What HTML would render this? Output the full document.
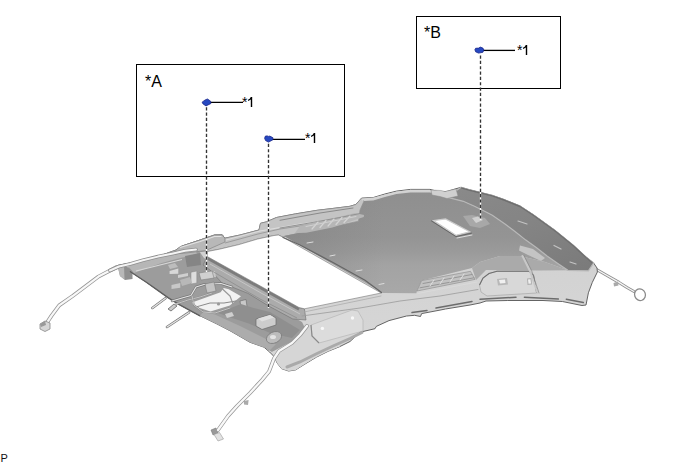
<!DOCTYPE html>
<html><head><meta charset="utf-8"><style>
html,body{margin:0;padding:0;background:#fff;width:688px;height:463px;overflow:hidden}
svg{position:absolute;left:0;top:0}
text{font-family:"Liberation Sans",sans-serif}
</style></head><body>
<svg width="688" height="463" viewBox="0 0 688 463">

<defs>
<linearGradient id="gdark" x1="0" y1="0" x2="0" y2="1">
<stop offset="0" stop-color="#8f8f8f"/><stop offset="0.45" stop-color="#949494"/><stop offset="0.6" stop-color="#9b9b9b"/><stop offset="0.72" stop-color="#a3a3a3"/><stop offset="1" stop-color="#a8a8a8"/>
</linearGradient>
<linearGradient id="gdarkL" x1="0" y1="0" x2="1" y2="0">
<stop offset="0" stop-color="#808080" stop-opacity="0.5"/><stop offset="0.35" stop-color="#808080" stop-opacity="0"/>
</linearGradient>
<linearGradient id="grear" x1="0" y1="0" x2="0" y2="1">
<stop offset="0" stop-color="#cecece"/><stop offset="1" stop-color="#d8d8d8"/>
</linearGradient>
<linearGradient id="gband" x1="0" y1="0" x2="1" y2="1">
<stop offset="0" stop-color="#8a8a8a"/><stop offset="0.5" stop-color="#848484"/><stop offset="1" stop-color="#7a7a7a"/>
</linearGradient>
</defs>
<g fill="none" stroke-linecap="round" stroke-linejoin="round">
<polyline points="129,264.5 119,266.5 116.8,267 98.5,276.6 72.3,296.3 59.2,305.4 51.4,315.9 46.2,323.8" stroke="#959595" stroke-width="3.8"/>
<polyline points="129,264.5 119,266.5 116.8,267 98.5,276.6 72.3,296.3 59.2,305.4 51.4,315.9 46.2,323.8" stroke="#f8f8f8" stroke-width="2.3"/>
<polyline points="594,268 607,275.5 619,282.4 627,287.5 634,291.5" stroke="#8e8e8e" stroke-width="3"/>
<polyline points="594,268 607,275.5 619,282.4 627,287.5 634,291.5" stroke="#f6f6f6" stroke-width="1.4"/>
<ellipse cx="640" cy="294.7" rx="5.4" ry="5.9" stroke="#8a8a8a" stroke-width="1.3" transform="rotate(-20 640 294.7)"/>
<path d="M613.5,283 L618,281.5 L618.5,285.5 L614,286.5 Z" fill="#aaa" stroke="none"/>
</g>
<path d="M40,324 L45,321 L50,323 L50,329 L45,331.5 L40,329 Z" fill="#d6d6d6" stroke="#888" stroke-width="0.8"/><path d="M40,324 L45,321 L46,325 L41,327 Z" fill="#999"/>
<path d="M211,430 L216,428 L218,433 L213,435 Z" fill="#999" stroke="#777" stroke-width="0.6"/><path d="M214,434.5 L219.5,432.5 L223.5,439 L218,441 Z" fill="#e2e2e2" stroke="#999" stroke-width="0.6"/><path d="M243.8,401 L248.6,400 L248,404.9 L244,404.5 Z" fill="#aaa"/>
<path d="M117.5,265.5 L128,263.5 L139,262 L158,256.5 L176,250 L182,246 L200,240 L214.5,235 L222.3,234.9 L224.8,238.2 L240,235 L259,230 L260.5,223.3 L266.3,221.9 L276.5,217.5 L295.4,213.9 L317.2,210.3 L330,208.8 L350,206.3 L355.8,204.5 L361.6,198.1 L373.3,197.5 L384.9,194 L396.5,191.1 L410.5,189.4 L430,189.4 L440,192 L447,191.4 L455,189 L461,187.3 L469,189.6 L480.7,192.5 L492.3,195.4 L504,199.5 L520,206 L533,214.5 L554.8,230.2 L573,245 L586,257 L593.6,263 L597,268 L597.4,272 L592.3,282.4 L588.4,292.8 L586,305 L582,305.5 L562.4,301.5 L543,300.5 L530,300.5 L507.8,300.5 L486,301 L480,303 L470,305 L445.4,309 L440,310.1 L421.6,313.6 L420.5,316.5 L414.7,315.3 L406.5,316 L389,320.6 L376.3,326.4 L375,328.7 L360,332.2 L350,341.5 L339.8,346.6 L328.1,351.3 L316.5,357.1 L304.9,364.1 L295.6,369.9 L288.6,371 L281.6,368.7 L277,362.9 L274.5,357 L269.6,352 L264,347.2 L250,342.3 L231,331.3 L217,324 L200,315.8 L192.6,311.9 L178.4,304.1 L168,297.6 L158.9,291.1 L146,282 L130.4,271.7 L120,268 Z" fill="url(#grear)" stroke="#646464" stroke-width="1"/>
<path d="M158,256.5 L176,250 L182,246 L200,240 L214.5,235 L222.3,234.9 L224.8,238.2 L240,235 L259,230 L260.5,223.3 L266.3,221.9 L276.5,217.5 L295.4,213.9 L317.2,210.3 L330,208.8 L350,206.3 L355.8,204.5 L361.6,198.1 L364,201 L360,210 L358.5,221.2 L332,227 L306,231.6 L282.5,236.9 L278.4,235 L274,235.5 L257.7,239 L238.9,244.6 L219.4,249.2 L207.5,251.5 L204.9,251.2 L187.4,252.9 L170,254.6 Z" fill="#c4c4c4" stroke="#8a8a8a" stroke-width="0.6"/>
<path d="M120,268 L131,267 L158,258 L176,253 L199,251 L204,258 L250,291.8 L302,322 L306,330 L290,345 L272,352 L264,347.2 L250,342.3 L231,331.3 L217,324 L200,315.8 L192.6,311.9 L178.4,304.1 L168,297.6 L158.9,291.1 L146,282 L130.4,271.7 Z" fill="#9c9c9c"/>
<path d="M207.3,256.6 L299,307.5 L304.4,308.8 L306,320 L292.8,319 L268.8,306.1 L248,293.4 L222,283 L210,270 L203,265 Z" fill="#ababab" stroke="#777" stroke-width="0.7"/>
<polyline points="208,258.6 299,309.2" fill="none" stroke="#7c7c7c" stroke-width="2.8"/>
<path d="M272,352 L285,345 L299,338 L306,327 L320,322 L345,322 L339.8,346.6 L328.1,351.3 L316.5,357.1 L304.9,364.1 L295.6,369.9 L288.6,371 L281.6,368.7 L277,362.9 L274.5,357 Z" fill="#d6d6d6"/>
<path d="M311,325 L352,310 L358,311 L363,320 L363,331 L319,343 L312,336 Z" fill="#dcdcdc" stroke="#b0b0b0" stroke-width="0.6"/>
<polyline points="311,325 312,336 319,343" fill="none" stroke="#8a8a8a" stroke-width="1.2"/>
<circle cx="322.4" cy="328.4" r="1.7" fill="#f8f8f8"/><circle cx="352.5" cy="318" r="1.7" fill="#f8f8f8"/>
<path d="M284,236 L306,231.6 L332,227 L358.5,221.2 L360,210 L364,201 L373.3,200.5 L384.9,197 L396.5,194 L410.5,192.5 L430,192.4 L440,194.5 L447,197.2 L463.3,201.3 L475,206.5 L486.5,212.3 L492.3,215.2 L505,224 L515,231.5 L525.8,240.1 L536.6,247.7 L547.4,256.3 L558.2,263.8 L567.9,270.3 L545,262 L520,256 L500,256 L480,262 L472,268 L421.6,280.6 L417,291 L416.3,293.3 L383,293 Z" fill="url(#gdark)"/>
<path d="M284,236 L306,231.6 L332,227 L358.5,221.2 L360,210 L364,201 L373.3,200.5 L384.9,197 L396.5,194 L410.5,192.5 L430,192.4 L440,194.5 L447,197.2 L463.3,201.3 L475,206.5 L486.5,212.3 L492.3,215.2 L505,224 L515,231.5 L525.8,240.1 L536.6,247.7 L547.4,256.3 L558.2,263.8 L567.9,270.3 L545,262 L520,256 L500,256 L480,262 L472,268 L421.6,280.6 L417,291 L416.3,293.3 L383,293 Z" fill="url(#gdarkL)"/>
<path d="M472,268 L480,262 L500,256 L520,256 L545,262 L567.9,270.3 L540,270.5 L486,270 L476,280 Z" fill="#aaaaaa"/>
<path d="M421.6,280.6 L470.5,271.3 L475,279.4 L417,291 Z" fill="#c2c2c2" stroke="#8a8a8a" stroke-width="0.6"/>
<path d="M461,187.3 L469,189.6 L480.7,192.5 L492.3,195.4 L504,199.5 L520,206 L533,214.5 L554.8,230.2 L573,245 L586,257 L593.6,263 L588.4,270.8 L567.9,270.3 L558.2,263.8 L547.4,256.3 L536.6,247.7 L525.8,240.1 L515,231.5 L505,224 L492.3,215.2 L486.5,212.3 L475,206.5 L463.3,201.3 L447,197.2 Z" fill="url(#gband)" stroke="#b8b8b8" stroke-width="1.2"/>
<path d="M479.5,285 L483,278 L489,273.5 L497,271.2 L529,271.2 L533.5,275.2 L536.7,293 L487,296 L481,292 Z" fill="#d8d8d8" stroke="#a0a0a0" stroke-width="0.6"/>
<polyline points="479.5,285 483,278 489,273.5 497,271.2 529,271.2 533.5,275.2 536.7,293" fill="none" stroke="#6e6e6e" stroke-width="1.1"/><path d="M497,279 L507,278 L508,284.5 L498,285.5 Z" fill="#b8b8b8"/><path d="M499,280 L505,279.5 L505.5,283 L500,283.5 Z" fill="#f0f0f0"/><path d="M527,278.5 L531.5,278 L532,284.5 L527.5,285 Z" fill="#b0b0b0"/><path d="M528,279.5 L530.5,279.3 L531,283.5 L528.5,283.7 Z" fill="#f0f0f0"/>
<path d="M207.3,256.6 L207.5,251.5 L219.4,249.2 L238.9,244.6 L257.7,239 L274,235.5 L278.4,235 L282.5,236.9 L381.2,293 L304.4,308.8 L299,307.5 Z" fill="#fff" stroke="#777" stroke-width="0.6"/>
<path d="M433.5,220.6 L445.5,218.9 L469.7,231.8 L455.9,235.3 Z" fill="#fff" stroke="#ccc" stroke-width="1.2"/>
<path d="M192,302.4 L220.6,292.2 L223.7,288.1 L228.7,289.2 L241,296.3 L229.8,305.4 L210.4,311.5 L195.2,306.4 Z" fill="#f2f2f2"/>
<rect x="118" y="265" width="14" height="14" fill="#858585" transform="skewY(30) translate(0,-70)" opacity="0"/>
<path d="M117.5,265.5 L124,265 L132.5,271 L132.5,279 L125,280 L120,276 Z" fill="#909090"/><path d="M117.5,265.5 L124,265 L124.5,279.5 L120,276 Z" fill="#b8b8b8"/>
<path d="M128,266 L143,261.5 L173,254 L195,249 L197,254 L176,259 L160,263.5 L146,268.5 L134,273 Z" fill="#b6b6b6"/>
<polyline points="136,271 160,265 182,259.5" fill="none" stroke="#d8d8d8" stroke-width="1.2"/>
<g fill="none" stroke-linecap="round" stroke-linejoin="round">
<!-- rear strip grooves -->
<polyline points="412,312.6 427,310.6" stroke="#6c6c6c" stroke-width="1.5"/>
<polyline points="436,308 472,301.5" stroke="#6c6c6c" stroke-width="1.5"/>
<polyline points="480,299.3 516,297.2" stroke="#6c6c6c" stroke-width="1.5"/>
<polyline points="524.4,297.3 558.4,299" stroke="#6c6c6c" stroke-width="1.5"/>
<polyline points="566.3,299.2 583.3,302.5" stroke="#6c6c6c" stroke-width="1.5"/>
<!-- line under opening frame -->
<polyline points="302,316 360,308 400,301 440,296 478,289.5" stroke="#9a9a9a" stroke-width="0.8"/>
<polyline points="304,312 381,296" stroke="#a8a8a8" stroke-width="0.7"/>
<!-- front-left panel lower edge dark -->
<polyline points="130.4,271.7 146,282 158.9,291.1 168,297.6 178.4,304.1 192.6,311.9 200,315.8" stroke="#5e5e5e" stroke-width="1.3"/>
<!-- screws -->
<polyline points="152.4,308 165.4,298.3" stroke="#777" stroke-width="2.6"/>
<polyline points="152.4,308 165.4,298.3" stroke="#e6e6e6" stroke-width="1.2"/>
<polyline points="167,327 189,312.4" stroke="#777" stroke-width="2.6"/>
<polyline points="167,327 189,312.4" stroke="#e6e6e6" stroke-width="1.2"/>
<!-- window frame -->
<polyline points="431.5,221 456,236.6 471.5,233.2" stroke="#666" stroke-width="1"/>
<polyline points="457,238 472,235" stroke="#ddd" stroke-width="1"/>
<!-- cables in cutout -->
<polyline points="196,307 210,303 224,303 236,301" stroke="#8a8a8a" stroke-width="1"/>
<polyline points="222.5,289 230,296 233,304" stroke="#999" stroke-width="1.2"/>
<circle cx="218.5" cy="304" r="1.6" fill="#999"/>
</g>
<!-- connector near screws -->
<path d="M168,309 L174,304 L177,306 L171,311 Z" fill="#ccc" stroke="#666" stroke-width="0.8"/>
<!-- front-left panel light features -->
<path d="M169.6,271 L178.3,268.5 L178.3,273.7 L169.6,274 Z" fill="#d8d8d8"/>
<path d="M168,265 L175,263 L178,267 L170,269 Z" fill="#bdbdbd"/>
<path d="M191,272.2 L196.8,271 L196.8,283 L191,284 Z" fill="#dedede" stroke="#888" stroke-width="0.5"/>
<path d="M185,256 L200,253 L201,265 L187,267 Z" fill="#858585"/>
<path d="M178,275 L188,273 L188,276 L178,278 Z" fill="#cfcfcf"/>
<path d="M171.5,285 L180.3,283 L180.3,287.8 L171.5,289 Z" fill="#c8c8c8"/>
<path d="M203,273 L215,271 L216,277 L204,279 Z" fill="#c8c8c8"/>
<path d="M240,301 L246,299.5 L247.5,310 L241.5,311.5 Z" fill="#c8c8c8" stroke="#666" stroke-width="0.6"/>
<path d="M200,315.8 L217,324 L231,331.3 L250,342.3 L264,347.2 L270,350 L276,344 L262,337 L240,326 L216,315 L204,311 Z" fill="#acacac"/>
<path d="M218,313 L241,304 L252.8,307.8 L270,312 L300,330 L292,338 L270,333 L250,324 L232,318 Z" fill="#8f8f8f"/>
<!-- lower panel features -->
<path d="M256,319 L270,314.5 L276,318 L276,325 L262,329.5 L256,326 Z" fill="#cdcdcd" stroke="#6a6a6a" stroke-width="0.7"/><path d="M258,318.5 L270,315 L274,317.5 L262,321.5 Z" fill="#e0e0e0"/>
<path d="M225,314 L232,312 L234,316 L227,318 Z" fill="#cfcfcf"/>
<ellipse cx="274" cy="337.5" rx="8" ry="5.5" fill="#bcbcbc" stroke="#777" stroke-width="0.7" transform="rotate(-25 274 337.5)"/><ellipse cx="273" cy="337" rx="3" ry="2" fill="#e4e4e4"/>
<!-- window clip feature -->
<path d="M463,216 L472,215 L485,218 L490,224 L480,228 L470,226 Z" fill="#a8a8a8"/>
<path d="M472,218 L478,216.5 L483,220 L476,223 Z" fill="#d0d0d0"/>
<g fill="none" stroke-linecap="round">
<polyline points="283,237.5 300,245 333,262.5 365,280.2 381.5,292.5" stroke="#666" stroke-width="1.3"/>
<polyline points="307,243 313,242" stroke="#ddd" stroke-width="1"/>
<polyline points="330,256 335,255" stroke="#ddd" stroke-width="1"/>
<polyline points="356,271 362,270" stroke="#ddd" stroke-width="1"/>
<polyline points="379,284.5 384,283.5" stroke="#ddd" stroke-width="1"/>
</g>

<path d="M174,254 C175.5,250 178,247.2 182.5,245.8 L200,240 L214.5,235 L222.3,234.9 L224.8,238.2 L225,242 L206,250.5 L188,252.8 Z" fill="#b8b8b8" stroke="#7a7a7a" stroke-width="0.6"/>
<polyline points="180,247.5 200,241.5 214.5,236.5 221.5,236.5" fill="none" stroke="#e2e2e2" stroke-width="1.2"/>
<polyline points="225,243 258,234 280,229 330,221.5 358,217" fill="none" stroke="#8a8a8a" stroke-width="0.7"/>
<polyline points="226,240 260,231 300,224 345,218 360,214" fill="none" stroke="#e0e0e0" stroke-width="0.9"/>
<polyline points="212,271 260,299 297,318" fill="none" stroke="#888" stroke-width="0.7"/>
<polyline points="210,264 262,293.5 300,314" fill="none" stroke="#c8c8c8" stroke-width="0.9"/>
<path d="M300,226 L330,219 L355,213 L364,215 L363.8,217 L332.4,227.5 L306.2,232.7 L295,233 Z" fill="#b6b6b6"/>
<g fill="none" stroke-linecap="round">
<polyline points="280,220.3 320,213 353,208" stroke="#8a8a8a" stroke-width="1"/>
<polyline points="280,228 306,223.6 340,217.5 360,213.5" stroke="#8c8c8c" stroke-width="0.9"/>
<polyline points="312,229 318,222" stroke="#d4d4d4" stroke-width="1.2"/>
<polyline points="320,227.5 326,220.5" stroke="#d4d4d4" stroke-width="1.2"/>
<polyline points="328,226 334,219" stroke="#d4d4d4" stroke-width="1.2"/>
<polyline points="336,224.5 342,217.5" stroke="#d4d4d4" stroke-width="1.2"/>
<polyline points="344,222.5 350,216" stroke="#d4d4d4" stroke-width="1.2"/>
<polyline points="306,226.5 356,216.5" stroke="#d0d0d0" stroke-width="1"/>
</g>
<g fill="none" stroke-linecap="round">
<polyline points="423,283.5 472,274.5" stroke="#8c8c8c" stroke-width="0.8"/>
<polyline points="420,287.8 474,277.8" stroke="#8c8c8c" stroke-width="0.8"/>
<polyline points="430,286 434,280" stroke="#e0e0e0" stroke-width="1"/>
<polyline points="440,284 444,278" stroke="#e0e0e0" stroke-width="1"/>
<polyline points="450,282 454,276" stroke="#e0e0e0" stroke-width="1"/>
<polyline points="460,280 464,274" stroke="#e0e0e0" stroke-width="1"/>
<polyline points="418,293.5 477,282" stroke="#dadada" stroke-width="1"/>
<!-- band marks -->
<polyline points="518,221 527,224" stroke="#c4c4c4" stroke-width="1.2"/>
<polyline points="554,245.5 561,249" stroke="#c4c4c4" stroke-width="1.2"/>
<polyline points="570,262 576,264" stroke="#c4c4c4" stroke-width="1.2"/>
<!-- rear vertical pillar line -->
<polyline points="522.5,256 530,271 537.5,293" stroke="#c8c8c8" stroke-width="2"/><polyline points="524,255.5 531.6,270.5 539,293" stroke="#888" stroke-width="0.7"/>
</g>
<path d="M520,245.5 L533,249 L545,258 L541,261 L528,255 L519,250.5 Z" fill="#c4c4c4"/>
<path d="M431,190 L441,190.5 L445,191.5 L456,189 L458,196 L447,198.5 L440,196.5 L432,195 Z" fill="#d0d0d0" stroke="#888" stroke-width="0.5"/>
<polyline points="362,199.5 373,198.5 385,195.3 397,192.4 411,190.7 430,190.6" fill="none" stroke="#d4d4d4" stroke-width="1.8"/>
<g fill="none" stroke-linecap="round" stroke-linejoin="round">
<polyline points="172,301 182,298 191,295.5 196,287 204,284.5 221,283.5 232,287" stroke="#777" stroke-width="2.4"/>
<polyline points="172,301 182,298 191,295.5 196,287 204,284.5 221,283.5 232,287" stroke="#e4e4e4" stroke-width="1.2"/>
<polyline points="176,304 188,300 200,297 212,293" stroke="#888" stroke-width="1.6"/>
<polyline points="176,304 188,300 200,297 212,293" stroke="#dcdcdc" stroke-width="0.7"/>
<polyline points="192,296 194,305 203,312 215,313 230,308" stroke="#888" stroke-width="1.6"/>
<polyline points="192,296 194,305 203,312 215,313 230,308" stroke="#e0e0e0" stroke-width="0.7"/>
</g>
<path d="M199,273 L212,271 L214,278 L201,280 Z" fill="#d0d0d0" stroke="#777" stroke-width="0.5"/>
<path d="M205,284 L214,282 L216,291 L207,293 Z" fill="#c4c4c4" stroke="#777" stroke-width="0.5"/>
<path d="M180,280 L190,277 L192,283 L182,286 Z" fill="#b8b8b8"/>
<polyline points="461,187.8 469,190.1 480.7,193 492.3,195.9 504,200 520,206.5 533,215 554.8,230.7 573,245.5 586,257.5 592.5,263" fill="none" stroke="#6e6e6e" stroke-width="1.4" stroke-linejoin="round"/>
<polyline points="287,367 300,362 316,354 333,346 350,338.5 362,332.5" fill="none" stroke="#aaaaaa" stroke-width="3" stroke-linecap="round"/>
<g fill="none" stroke-linecap="round" stroke-linejoin="round">
<polyline points="110,270.5 119,266.5 130,264 142.9,260.3 158,256.6 173.1,253.4 185,250.8 196,249.5" stroke="#8e8e8e" stroke-width="3.6"/>
<polyline points="110,270.5 119,266.5 130,264 142.9,260.3 158,256.6 173.1,253.4 185,250.8 196,249.5" stroke="#f4f4f4" stroke-width="2"/>
<polyline points="307,326 300,335 292,343 279,351 274,358.5 269,371.6 262,380 250,393 237,406 228,416 218,430" stroke="#959595" stroke-width="3.8"/>
<polyline points="307,326 300,335 292,343 279,351 274,358.5 269,371.6 262,380 250,393 237,406 228,416 218,430" stroke="#f8f8f8" stroke-width="2.3"/>
</g>
<rect x="136.5" y="64.5" width="208" height="112" fill="none" stroke="#000" stroke-width="1"/>
<rect x="416.5" y="16.5" width="144" height="72" fill="none" stroke="#000" stroke-width="1"/>
<text x="145" y="87" font-size="16" fill="#000">*A</text>
<text x="424" y="38" font-size="16" fill="#000">*B</text>
<g stroke="#fff" stroke-width="1.35" fill="none">
<line x1="206.5" y1="230" x2="206.5" y2="272"/>
<line x1="268.5" y1="215" x2="268.5" y2="308"/>
<line x1="480.5" y1="186" x2="480.5" y2="221"/>
</g>
<g stroke="#333" stroke-width="1.35" stroke-dasharray="3.2 2.13" fill="none">
<line x1="206.5" y1="107.2" x2="206.5" y2="272"/>
<line x1="268.5" y1="143.8" x2="268.5" y2="308"/>
<line x1="480.5" y1="55.5" x2="480.5" y2="221"/>
</g>
<g stroke="#000" stroke-width="1.3">
<line x1="210" y1="102.45" x2="243" y2="102.45"/>
<line x1="272" y1="139.3" x2="305" y2="139.3"/>
<line x1="483" y1="50.4" x2="515" y2="50.4"/>
</g>
<g fill="#2648c0" stroke="#18248a" stroke-width="0.8">
<path d="M202.1,102.2 L205.2,99.9 L207.5,99 L210.6,101.2 L210.9,103.5 L206,105.9 L203.1,104 Z"/>
<path d="M264.6,138.2 L265.4,136.1 L267.2,135.9 L268.7,136.4 L269.8,136.1 L272.9,137.7 L272.9,139.8 L268.5,142.1 L265.6,140.6 Z"/>
<path d="M474.9,49.7 L475.6,48.3 L478.7,48.1 L480.3,47.1 L482.9,48.1 L483.9,50 L482.9,52.3 L478.5,53.1 L475.6,51.8 Z"/>
</g>
<g font-size="14" fill="#000">
<text x="242" y="107">*</text>
<text x="305" y="143">*</text>
<text x="517" y="55">*</text>
</g>
<g fill="#000">
<path d="M250.8,97 L252.2,97 L252.2,107 L250.8,107 L250.8,99.4 Q249.8,100.3 248,100.9 L248,99.8 Q250,99 250.8,97 Z"/>
<path d="M313.8,133 L315.2,133 L315.2,143 L313.8,143 L313.8,135.4 Q312.8,136.3 311,136.9 L311,135.8 Q313,135 313.8,133 Z"/>
<path d="M525.8,45 L527.2,45 L527.2,55 L525.8,55 L525.8,47.4 Q524.8,48.3 523,48.9 L523,47.8 Q525,47 525.8,45 Z"/>
</g>
<text x="0.5" y="462" font-size="11" fill="#111">P</text>
</svg>
</body></html>
